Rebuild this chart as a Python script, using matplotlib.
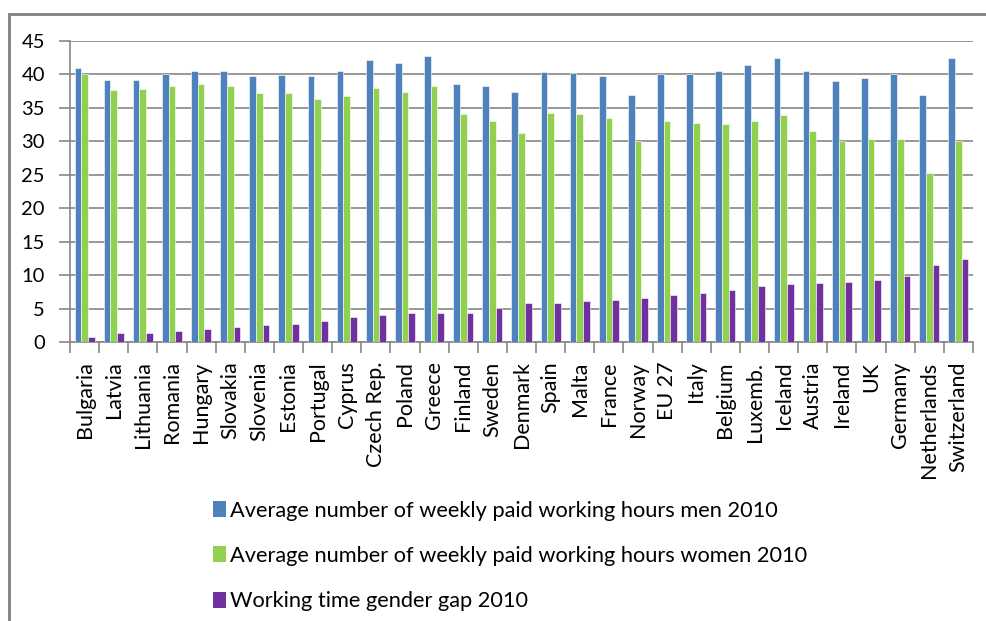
import numpy as np
import matplotlib.pyplot as plt
from matplotlib.patches import Rectangle, Patch

# ======================
# data
# ======================
countries = ["Bulgaria", "Latvia", "Lithuania", "Romania", "Hungary", "Slovakia",
             "Slovenia", "Estonia", "Portugal", "Cyprus", "Czech Rep.", "Poland",
             "Greece", "Finland", "Sweden", "Denmark", "Spain", "Malta", "France",
             "Norway", "EU 27", "Italy", "Belgium", "Luxemb.", "Iceland", "Austria",
             "Ireland", "UK", "Germany", "Netherlands", "Switzerland"]

men = [40.9, 39.2, 39.2, 40.1, 40.5, 40.5, 39.7, 39.9, 39.7, 40.5, 42.2, 41.7,
       42.7, 38.5, 38.2, 37.4, 40.4, 40.2, 39.7, 36.9, 40.1, 40.1, 40.5, 41.4,
       42.5, 40.5, 39.0, 39.5, 40.1, 36.9, 42.4]

women = [40.1, 37.7, 37.8, 38.3, 38.5, 38.2, 37.2, 37.2, 36.3, 36.8, 38.0, 37.4,
         38.2, 34.1, 33.1, 31.2, 34.3, 34.1, 33.5, 30.0, 33.1, 32.8, 32.6, 33.1,
         34.0, 31.6, 30.0, 30.3, 30.3, 25.2, 30.0]

gap = [0.7, 1.4, 1.4, 1.7, 1.9, 2.2, 2.6, 2.7, 3.2, 3.7, 4.1, 4.4,
       4.4, 4.4, 5.1, 5.9, 5.9, 6.1, 6.3, 6.6, 7.0, 7.4, 7.8, 8.3,
       8.6, 8.8, 9.0, 9.3, 9.9, 11.5, 12.4]

labels = ["Average number of weekly paid working hours men 2010",
          "Average number of weekly paid working hours women 2010",
          "Working time gender gap 2010"]
colors = ["#4F81BD", "#92D050", "#7030A0"]

# ======================
# figure
# ======================
plt.rcParams["font.family"] = ["Lato", "DejaVu Sans"]
GRAY = "#868686"

fig = plt.figure(figsize=(9.86, 6.21), dpi=100)
ax = fig.add_axes([70 / 986, 1 - 342 / 621, 903 / 986, 301 / 621])

x = np.arange(len(countries))
w = 0.23
for k, vals in enumerate([men, women, gap]):
    ax.bar(x + (k - 1) * w, vals, width=w, color=colors[k],
           edgecolor="white", linewidth=0.4, zorder=3)

ax.set_xlim(-0.5, len(countries) - 0.5)
ax.set_ylim(0, 45)
ax.set_yticks(np.arange(0, 46, 5))
ax.yaxis.grid(True, color=GRAY, linewidth=1.2, zorder=0)

ax.set_xticks(x)
ax.set_xticklabels(countries, rotation=90, fontsize=15.5, va="top", ha="center")
ax.tick_params(axis="x", length=0, pad=14)
ax.set_xticks(np.arange(-0.5, len(countries), 1), minor=True)
ax.tick_params(axis="x", which="minor", length=8, color=GRAY, width=1.2)
ax.tick_params(axis="y", length=8, color=GRAY, width=1.2, labelsize=14.5, pad=10)

for s in ["top", "right"]:
    ax.spines[s].set_visible(False)
for s in ["left", "bottom"]:
    ax.spines[s].set_color(GRAY)
    ax.spines[s].set_linewidth(1.2)

# outer chart border (cut off at right and bottom)
fig.patches.append(Rectangle((8.5 / 986, -0.1), 1.2, 1.1 - 14 / 621,
                             transform=fig.transFigure, fill=False,
                             edgecolor="#808080", linewidth=2))

handles = [Patch(facecolor=c, edgecolor="none") for c in colors]
fig.legend(handles, labels, loc="upper left", bbox_to_anchor=(204 / 986, 1 - 492 / 621),
           frameon=False, fontsize=15.7, handlelength=0.6, handleheight=0.75,
           handletextpad=0.2, labelspacing=1.16, borderaxespad=0)

fig.savefig("out.png", dpi=100)
